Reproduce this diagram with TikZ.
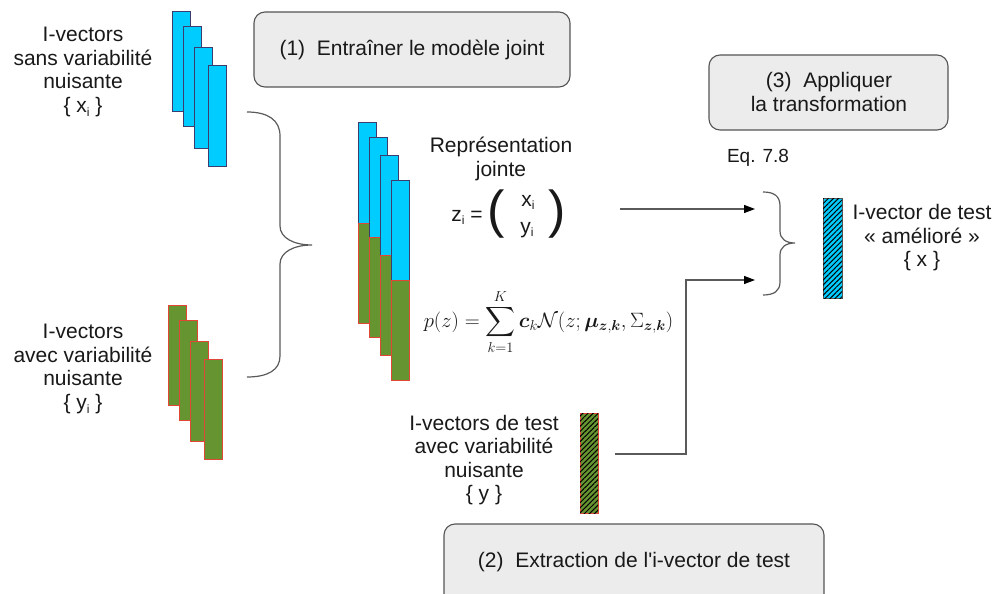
\documentclass[tikz,border=0pt]{standalone}
\usepackage{amsmath,bm}
\usepackage{fontspec}
\setmainfont{Liberation Sans}[Ligatures=TeXOff]
\usetikzlibrary{arrows.meta,patterns.meta}
\definecolor{cyanb}{RGB}{0,204,255}
\definecolor{navyb}{RGB}{60,60,110}
\definecolor{greenb}{RGB}{102,148,48}
\definecolor{redb}{RGB}{225,70,55}
\definecolor{boxfill}{RGB}{236,236,236}
\definecolor{boxline}{RGB}{85,85,85}
\definecolor{linegray}{RGB}{90,90,90}
\definecolor{txt}{RGB}{25,25,25}
\tikzset{
  x=1pt, y=-1pt,
  bar/.style={draw, line width=1pt, inner sep=0pt, outer sep=0pt, anchor=north west, minimum width=18pt},
  bluebar/.style={bar, fill=cyanb, draw=navyb, minimum height=100pt},
  greenbar/.style={bar, fill=greenb, draw=redb, minimum height=100pt},
  hatchlines/.style={postaction={pattern={Lines[angle=45,distance=3.6pt,line width=1pt]}, pattern color=black}},
  stepbox/.style={draw=boxline, fill=boxfill, line width=1.1pt, rounded corners=11pt, inner sep=0pt, outer sep=0pt},
  lbl/.style={text=txt, align=center, font=\fontsize{21}{23.5}\selectfont, inner sep=0pt},
  conn/.style={draw=linegray, line width=1.2pt},
  brace/.style={draw=linegray, line width=1.2pt},
  tip/.style={-{Triangle[length=11pt,width=8pt,color=black,fill=black]}, conn}
}
\newcommand{\subi}{\raisebox{-0.35ex}{\fontsize{12}{12}\selectfont i}}
\begin{document}
\begin{tikzpicture}
\useasboundingbox (0,0) rectangle (997,594);
\fill[white] (0,0) rectangle (997,594);

% boxes
\draw[stepbox] (254,12) rectangle (570,87);
\node[lbl] (t1) at (412,49.5) {(1)\ \ Entraîner le modèle joint};
\draw[stepbox] (709,55) rectangle (948,130);
\node[lbl] (t3) at (829,92) {(3)\ \ Appliquer\\la transformation};
\draw[stepbox] (444,524) rectangle (824,610);
\node[lbl] (t2) at (634,562) {(2)\ \ Extraction de l'i-vector de test};

% left labels
\node[lbl] (lx) at (83,72) {I-vectors\\sans variabilité\\nuisante\\\{ x\subi\ \}};
\node[lbl] (ly) at (83,369) {I-vectors\\avec variabilité\\nuisante\\\{ y\subi\ \}};

% blue stack
\node[bluebar] (b1) at (172.5,12) {};
\node[bluebar] (b2) at (183.5,26.5) {};
\node[bluebar] (b3) at (194.5,48) {};
\node[bluebar] (b4) at (208,66) {};

% green stack
\node[greenbar] (g1) at (168.5,305.5) {};
\node[greenbar] (g2) at (179.5,320) {};
\node[greenbar] (g3) at (190.5,341) {};
\node[greenbar] (g4) at (204.5,359) {};

% joint stack
\node[bluebar] (j1b) at (358.5,123) {};
\node[greenbar] (j1g) at (358.5,223) {};
\node[bluebar] (j2b) at (369.5,137) {};
\node[greenbar] (j2g) at (369.5,237) {};
\node[bluebar] (j3b) at (380.5,155) {};
\node[greenbar] (j3g) at (380.5,255) {};
\node[bluebar] (j4b) at (391,180) {};
\node[greenbar] (j4g) at (391,280) {};

% left brace
\draw[brace] (247,112) .. controls (268,112) and (280,120) .. (280,136) -- (280,226)
  .. controls (280,238) and (294,245) .. (312,245)
  .. controls (294,245) and (280,252) .. (280,264) -- (280,356)
  .. controls (280,370) and (268,377) .. (247,377);

% joint representation
\node[lbl] (rep) at (501,159) {Représentation\\jointe};
\node[lbl, anchor=base] (zi) at (467,221) {z\subi\ =};
\node[text=txt, inner sep=0pt, font=\fontsize{52}{52}\selectfont] (lp) at (496,214) {(};
\node[lbl, anchor=base] (xi) at (528,206) {x\subi};
\node[lbl, anchor=base] (yi) at (527,233) {y\subi};
\node[text=txt, inner sep=0pt, font=\fontsize{52}{52}\selectfont] (rp) at (557,214) {)};

% formula
\node[text=txt, inner sep=0pt, font=\fontsize{20.7}{24}\selectfont] (pz) at (548.5,322)
  {$\displaystyle p(z)=\sum_{k=1}^{K}\bm{c}_k\mathcal{N}(z;\bm{\mu}_{\bm{z},\bm{k}},\Sigma_{\bm{z},\bm{k}})$};

% test i-vector
\node[lbl] (ty) at (484,460) {I-vectors de test\\avec variabilité\\nuisante\\\{ y \}};
\node[greenbar, hatchlines] (hg) at (580,413) {};

% output
\node[lbl, font=\fontsize{19}{22}\selectfont] (eq) at (758,158) {Eq. 7.8};
\node[bar, fill=cyanb, draw=boxline, minimum width=19pt, minimum height=100pt, hatchlines] (hb) at (823,198) {};
\node[lbl] (tx) at (922,238) {I-vector de test\\« amélioré »\\\{ x \}};

% right brace
\draw[brace] (763,192) .. controls (774,192) and (780,196) .. (780,206) -- (780,231)
  .. controls (780,239) and (786,243) .. (795,243)
  .. controls (786,243) and (780,247) .. (780,255) -- (780,282)
  .. controls (780,291) and (774,295) .. (763,295);

% connectors
\coordinate (a1s) at (620,209);
\coordinate (a1e) at (755,209);
\draw[tip] (a1s) -- (a1e);
\coordinate (a2s) at (615,454);
\coordinate (a2e) at (755,280);
\draw[tip] (a2s) -- (686,454) |- (a2e);
\end{tikzpicture}
\end{document}
